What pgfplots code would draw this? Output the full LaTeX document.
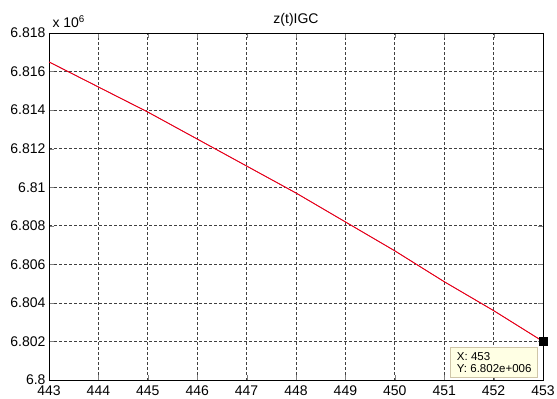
\documentclass[border=0pt]{standalone}
\usepackage{pgfplots}
\pgfplotsset{compat=1.18}
\usepackage{fontspec}
\setmainfont{Liberation Sans}

\definecolor{tipbg}{HTML}{FFFFE4}
\definecolor{tipedge}{HTML}{CFC6A8}
\definecolor{gridc}{HTML}{404040}

% z(t) sampled once per unit of t
\pgfplotstableread{
t     z
443   6816500
444   6815200
445   6813900
446   6812500
447   6811100
448   6809700
449   6808200
450   6806700
451   6805100
452   6803600
453   6802000
}\ztable

\begin{document}
\begin{tikzpicture}
\useasboundingbox (0,0) rectangle (557pt,399pt);
\begin{axis}[
  at={(49pt,19pt)}, anchor=south west,
  scale only axis, width=494pt, height=347pt,
  xmin=443, xmax=453, ymin=6.8e6, ymax=6.818e6,
  xtick={443,444,...,453},
  ytick={6800000,6802000,6804000,6806000,6808000,6810000,6812000,6814000,6816000,6818000},
  scaled y ticks=base 10:-6,
  ytick scale label code/.code={},
  yticklabel style={/pgf/number format/precision=3},
  /pgf/number format/assume math mode=true,
  tick label style={font=\fontsize{14}{16}\selectfont, black},
  xticklabel style={yshift=-2.5pt},
  grid=major,
  major grid style={gridc, dash pattern=on 2.5pt off 2.5pt, line width=0.7pt},
  tick align=inside,
  major tick length=5pt,
  axis line style={line width=0.9pt, black},
  title={z(t)IGC},
  title style={font=\fontsize{14}{16}\selectfont, yshift=-3pt},
  clip=false,
]
\addplot[blue, line width=0.5pt, no marks] table[x=t, y=z] {\ztable};
\addplot[red, line width=0.9pt, no marks] table[x=t, y=z] {\ztable};
% data cursor
\addplot[only marks, mark=square*, mark size=4pt, black] coordinates {(453,6802000)};
\node[anchor=north east, xshift=-5pt, yshift=-6pt, fill=tipbg, draw=tipedge,
      line width=0.6pt, align=left, inner xsep=5pt, inner ysep=4.5pt,
      font=\fontsize{11.5}{12.5}\selectfont, minimum width=87pt]
  at (axis cs:453,6802000) {X: 453\\Y: 6.802e+006};
\end{axis}
\node[anchor=base west, font=\fontsize{14}{16}\selectfont] at (49pt,371pt) {x 10\textsuperscript{6}};
\end{tikzpicture}
\end{document}
